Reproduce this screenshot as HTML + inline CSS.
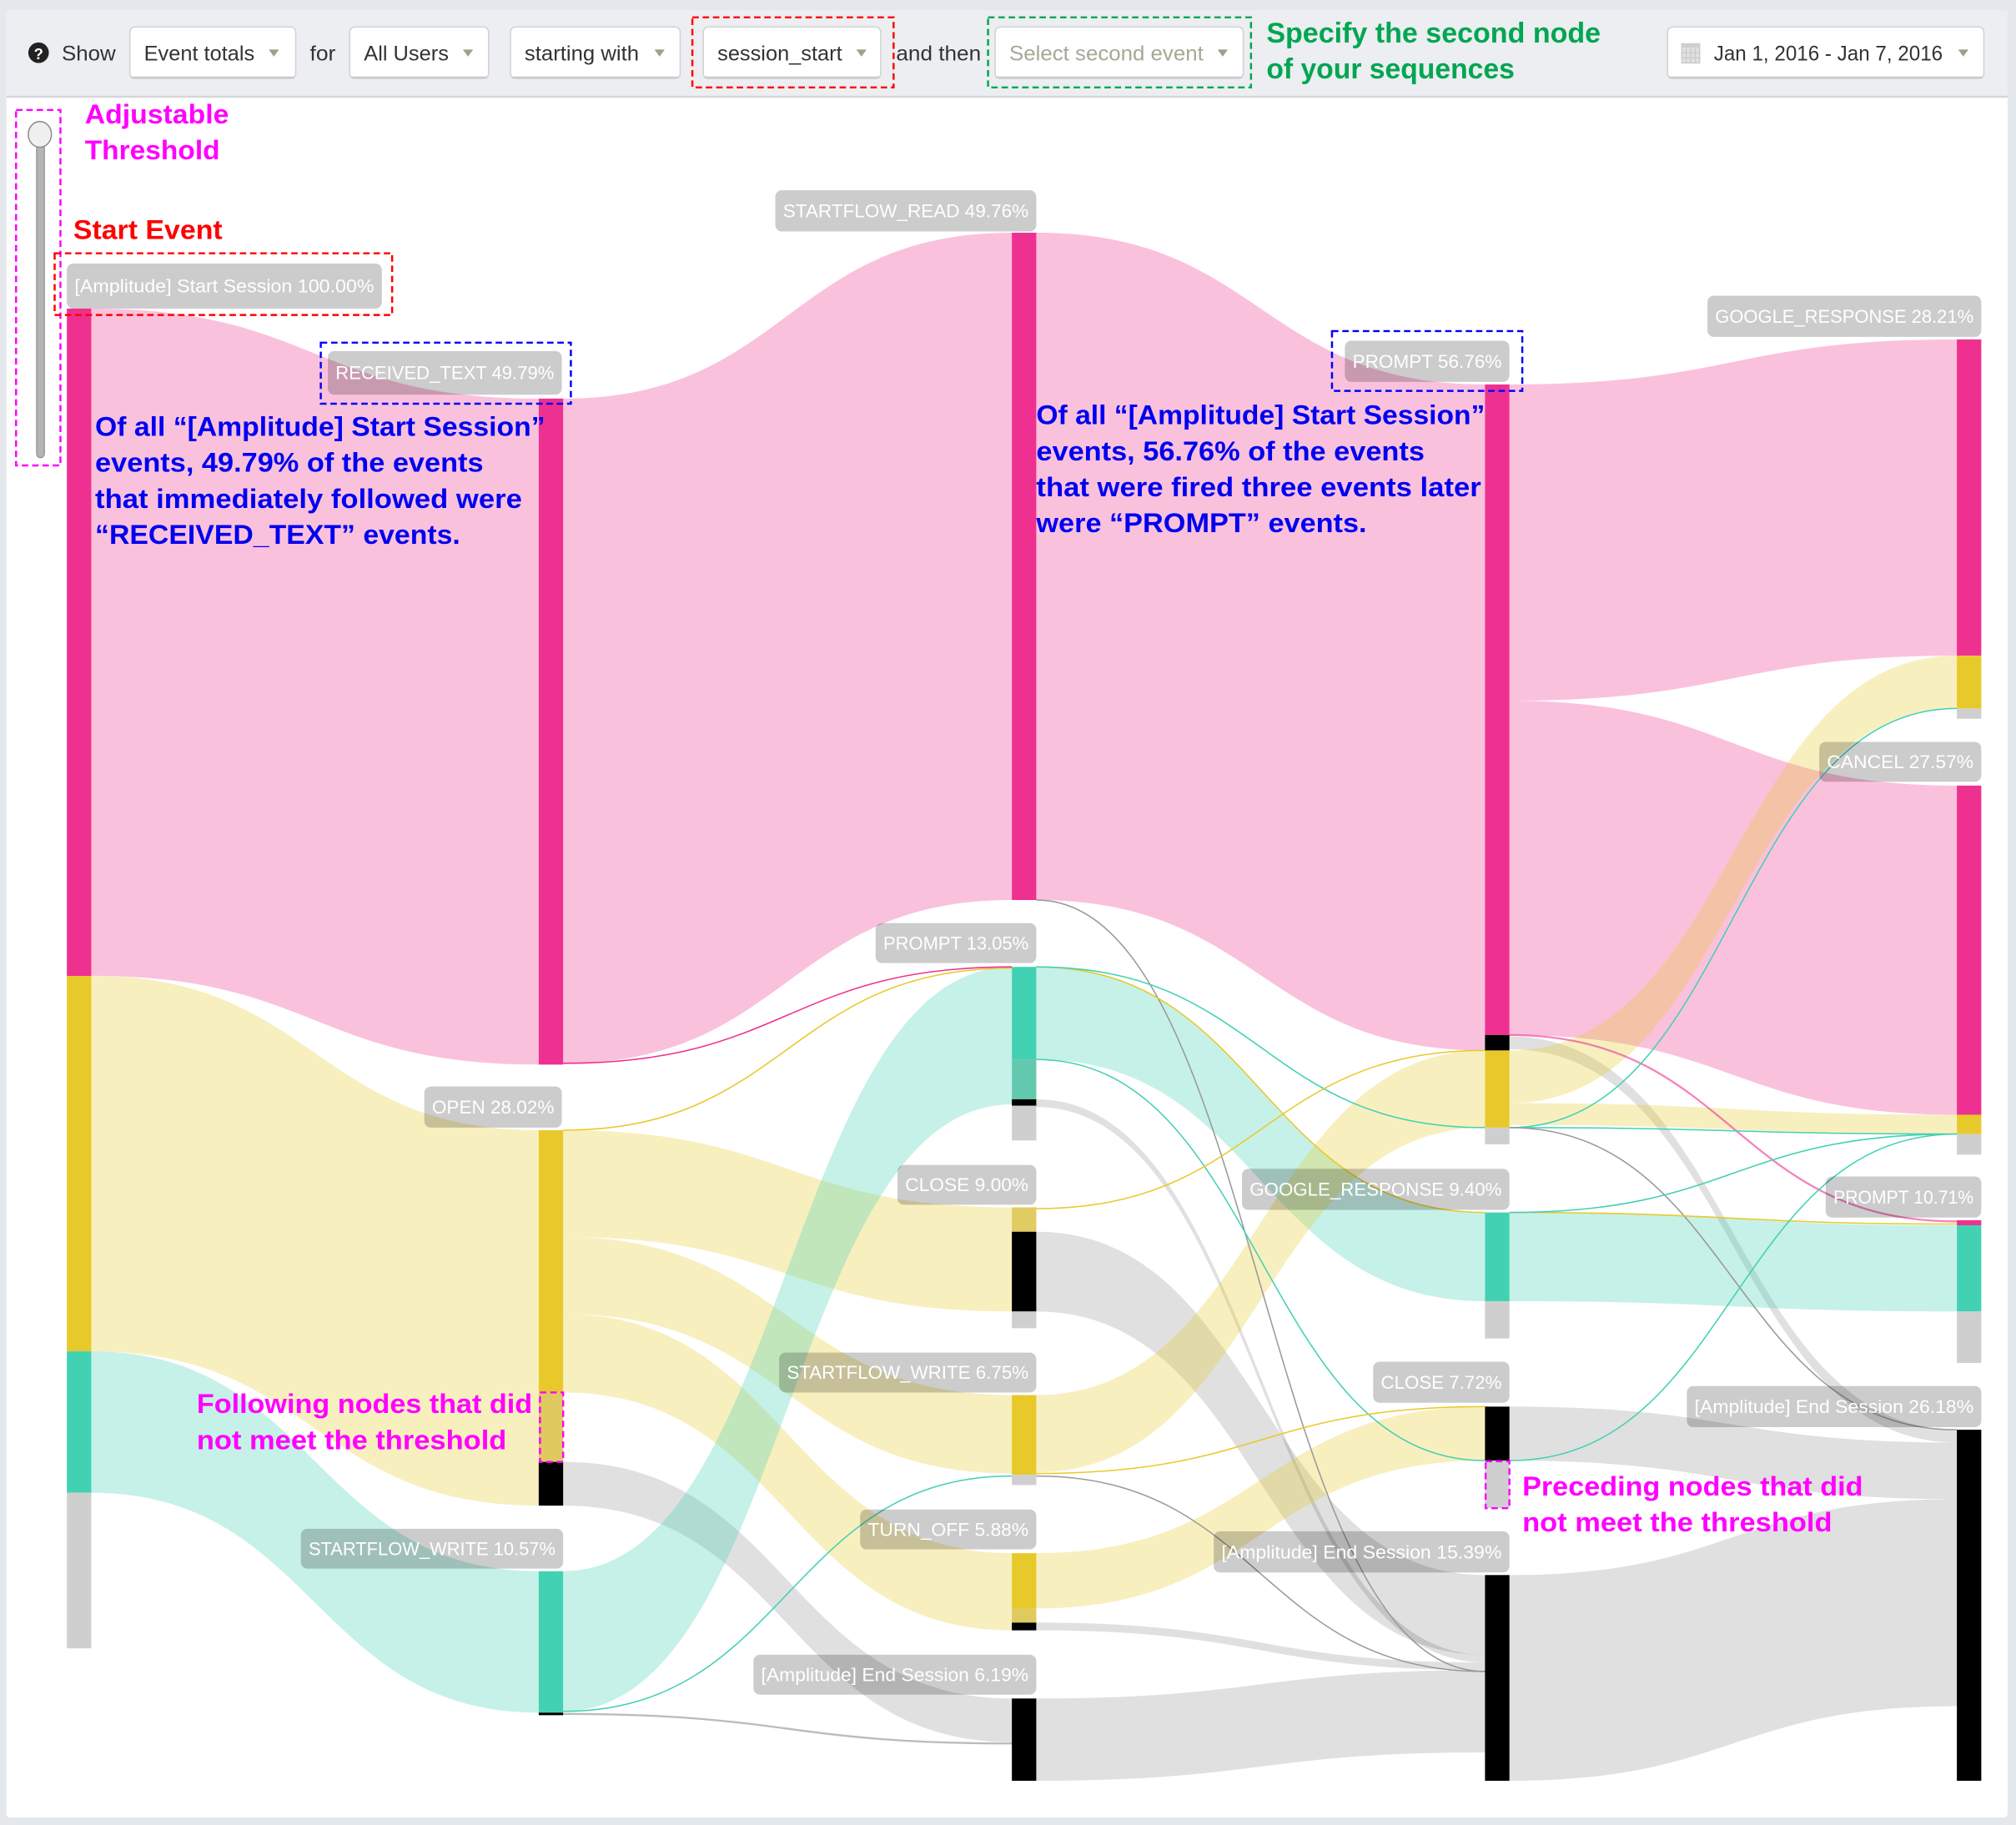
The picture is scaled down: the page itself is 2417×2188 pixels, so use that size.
<!DOCTYPE html>
<html>
<head>
<meta charset="utf-8">
<style>
html,body{margin:0;padding:0;background:#e4e7eb;}
svg{display:block;}
text{font-family:"Liberation Sans",sans-serif;}
</style>
</head>
<body>
<svg width="2417" height="2188" viewBox="0 0 1568 1419.4" preserveAspectRatio="none" xmlns="http://www.w3.org/2000/svg">
<rect x="0" y="0" width="1568" height="1419.4" fill="#e4e7eb"/>
<rect x="5" y="8" width="1556.5" height="1405.5" rx="3" fill="#ffffff"/>
<!-- top bar -->
<rect x="5" y="8" width="1556.5" height="67" fill="#eceef1"/>
<rect x="5" y="74.5" width="1556.5" height="1.5" fill="#d3d5d8"/>

<!-- help icon -->
<circle cx="30" cy="41" r="8" fill="#222"/>
<text x="30" y="46" font-size="12" font-weight="bold" fill="#fff" text-anchor="middle">?</text>
<text x="48" y="47" font-size="16" fill="#333" textLength="42" lengthAdjust="spacingAndGlyphs">Show</text>

<g fill="#fff" stroke="#d0d2d4" stroke-width="1">
<rect x="101" y="21" width="129" height="40" rx="4"/>
<rect x="272" y="21" width="108" height="40" rx="4"/>
<rect x="397" y="21" width="132" height="40" rx="4"/>
<rect x="547" y="21" width="138" height="40" rx="4"/>
<rect x="774" y="21" width="193" height="40" rx="4"/>
<rect x="1297" y="21" width="246" height="40" rx="4"/>
</g>
<g fill="#c8cacc">
<rect x="102" y="59.5" width="127" height="1.5"/>
<rect x="273" y="59.5" width="106" height="1.5"/>
<rect x="398" y="59.5" width="130" height="1.5"/>
<rect x="548" y="59.5" width="136" height="1.5"/>
<rect x="775" y="59.5" width="191" height="1.5"/>
<rect x="1298" y="59.5" width="244" height="1.5"/>
</g>
<text x="112" y="47" font-size="16" fill="#333" textLength="86" lengthAdjust="spacingAndGlyphs">Event totals</text>
<text x="241" y="47" font-size="16" fill="#333" textLength="20" lengthAdjust="spacingAndGlyphs">for</text>
<text x="283" y="47" font-size="16" fill="#333" textLength="66" lengthAdjust="spacingAndGlyphs">All Users</text>
<text x="408" y="47" font-size="16" fill="#333" textLength="89" lengthAdjust="spacingAndGlyphs">starting with</text>
<text x="558" y="47" font-size="16" fill="#333" textLength="97" lengthAdjust="spacingAndGlyphs">session_start</text>
<text x="697" y="47" font-size="16" fill="#333" textLength="66" lengthAdjust="spacingAndGlyphs">and then</text>
<text x="785" y="47" font-size="16" fill="#a4a994" textLength="151" lengthAdjust="spacingAndGlyphs">Select second event</text>
<text x="1333" y="47" font-size="16" fill="#333" textLength="178" lengthAdjust="spacingAndGlyphs">Jan 1, 2016 - Jan 7, 2016</text>
<g fill="#9ea08f">
<polygon points="209,38.5 217,38.5 213,44"/>
<polygon points="360,38.5 368,38.5 364,44"/>
<polygon points="509,38.5 517,38.5 513,44"/>
<polygon points="666,38.5 674,38.5 670,44"/>
<polygon points="947,38.5 955,38.5 951,44"/>
<polygon points="1523,38.5 1531,38.5 1527,44"/>
</g>
<!-- calendar icon -->
<g>
<rect x="1308" y="34" width="14" height="15" fill="#e0e0e0" stroke="#c8c8c8" stroke-width="0.8"/>
<rect x="1308" y="34" width="14" height="3" fill="#cfcfcf"/>
<path d="M1308 41 H1322 M1308 45 H1322 M1311.5 37 V49 M1315 37 V49 M1318.5 37 V49" stroke="#c4c4c4" stroke-width="0.6"/>
</g>
<text x="985" y="33" font-size="22" font-weight="bold" fill="#00a651" textLength="260" lengthAdjust="spacingAndGlyphs">Specify the second node</text>
<text x="985" y="61" font-size="22" font-weight="bold" fill="#00a651" textLength="193" lengthAdjust="spacingAndGlyphs">of your sequences</text>
<rect x="538.5" y="13.5" width="156.5" height="54.5" fill="none" stroke="#ff0000" stroke-width="1.6" stroke-dasharray="5 3"/>
<rect x="768.5" y="13.5" width="204.5" height="54.5" fill="none" stroke="#00a651" stroke-width="1.6" stroke-dasharray="5 3"/>

<!-- LINKS col1->col2 -->
<g>
<path d="M71 240 C245 240 245 310 419 310 L419 828 C245 828 245 759 71 759Z" fill="#ee3190" fill-opacity="0.3"/>
<path d="M71 759 C245 759 245 879 419 879 L419 1171 C245 1171 245 1051 71 1051Z" fill="#e8c92b" fill-opacity="0.3"/>
<path d="M71 1051 C245 1051 245 1222 419 1222 L419 1332 C245 1332 245 1161 71 1161Z" fill="#42d1b3" fill-opacity="0.3"/>
</g>
<!-- col2->col3 -->
<g>
<path d="M438 310 C612.5 310 612.5 181 787 181 L787 700 C612.5 700 612.5 827 438 827Z" fill="#ee3190" fill-opacity="0.3"/>
<path d="M438 879 C612.5 879 612.5 939 787 939 L787 1020 C612.5 1020 612.5 962 438 962Z" fill="#e8c92b" fill-opacity="0.3"/>
<path d="M438 962 C612.5 962 612.5 1085 787 1085 L787 1146 C612.5 1146 612.5 1022 438 1022Z" fill="#e8c92b" fill-opacity="0.3"/>
<path d="M438 1022 C612.5 1022 612.5 1208 787 1208 L787 1268 C612.5 1268 612.5 1083 438 1083Z" fill="#e8c92b" fill-opacity="0.3"/>
<path d="M438 1137 C612.5 1137 612.5 1321 787 1321 L787 1355 C612.5 1355 612.5 1171 438 1171Z" fill="#000" fill-opacity="0.12"/>
<path d="M438 1222 C612.5 1222 612.5 752 787 752 L787 859 C612.5 859 612.5 1331 438 1331Z" fill="#42d1b3" fill-opacity="0.3"/>
<g fill="none" stroke-width="1">
<path d="M438 827 C612.5 827 612.5 752 787 752" stroke="#ee3190"/>
<path d="M438 879 C612.5 879 612.5 753 787 753" stroke="#e8c92b"/>
<path d="M438 1331 C612.5 1331 612.5 1148 787 1148" stroke="#42d1b3"/>
<path d="M438 1333 C612.5 1333 612.5 1356 787 1356" stroke="#bbb" stroke-width="1.5"/>
</g>
</g>
<!-- col3->col4 -->
<g>
<path d="M806 181 C980.5 181 980.5 299 1155 299 L1155 817 C980.5 817 980.5 700 806 700Z" fill="#ee3190" fill-opacity="0.3"/>
<path d="M806 752 C980.5 752 980.5 943 1155 943 L1155 1012 C980.5 1012 980.5 824 806 824Z" fill="#42d1b3" fill-opacity="0.3"/>
<path d="M806 855 C980.5 855 980.5 1287 1155 1287 L1155 1293 C980.5 1293 980.5 861 806 861Z" fill="#000" fill-opacity="0.12"/>
<path d="M806 958 C980.5 958 980.5 1225 1155 1225 L1155 1287 C980.5 1287 980.5 1020 806 1020Z" fill="#000" fill-opacity="0.12"/>
<path d="M806 1085 C980.5 1085 980.5 817 1155 817 L1155 877 C980.5 877 980.5 1145 806 1145Z" fill="#e8c92b" fill-opacity="0.3"/>
<path d="M806 1208 C980.5 1208 980.5 1094 1155 1094 L1155 1136 C980.5 1136 980.5 1251 806 1251Z" fill="#e8c92b" fill-opacity="0.3"/>
<path d="M806 1262 C980.5 1262 980.5 1293 1155 1293 L1155 1299 C980.5 1299 980.5 1268 806 1268Z" fill="#000" fill-opacity="0.12"/>
<path d="M806 1321 C980.5 1321 980.5 1299 1155 1299 L1155 1363 C980.5 1363 980.5 1385 806 1385Z" fill="#000" fill-opacity="0.12"/>
<g fill="none" stroke-width="1">
<path d="M806 700 C980.5 700 980.5 1300 1155 1300" stroke="#999"/>
<path d="M806 752 C980.5 752 980.5 943 1155 943" stroke="#e8c92b"/>
<path d="M806 752 C980.5 752 980.5 877 1155 877" stroke="#42d1b3"/>
<path d="M806 824 C980.5 824 980.5 1136 1155 1136" stroke="#42d1b3"/>
<path d="M806 940 C980.5 940 980.5 817 1155 817" stroke="#e8c92b"/>
<path d="M806 1146 C980.5 1146 980.5 1094 1155 1094" stroke="#e8c92b"/>
<path d="M806 1148 C980.5 1148 980.5 1300 1155 1300" stroke="#999"/>
</g>
</g>
<!-- col4->col5 -->
<g>
<path d="M1174 299 C1348 299 1348 264 1522 264 L1522 510 C1348 510 1348 545 1174 545Z" fill="#ee3190" fill-opacity="0.3"/>
<path d="M1174 545 C1348 545 1348 611 1522 611 L1522 867 C1348 867 1348 805 1174 805Z" fill="#ee3190" fill-opacity="0.3"/>
<path d="M1174 806 C1348 806 1348 1112 1522 1112 L1522 1122 C1348 1122 1348 816 1174 816Z" fill="#000" fill-opacity="0.12"/>
<path d="M1174 817 C1348 817 1348 510 1522 510 L1522 551 C1348 551 1348 858 1174 858Z" fill="#e8c92b" fill-opacity="0.3"/>
<path d="M1174 858 C1348 858 1348 867 1522 867 L1522 882 C1348 882 1348 875 1174 875Z" fill="#e8c92b" fill-opacity="0.3"/>
<path d="M1174 943 C1348 943 1348 953 1522 953 L1522 1020 C1348 1020 1348 1012 1174 1012Z" fill="#42d1b3" fill-opacity="0.3"/>
<path d="M1174 1094 C1348 1094 1348 1122 1522 1122 L1522 1166 C1348 1166 1348 1136 1174 1136Z" fill="#000" fill-opacity="0.12"/>
<path d="M1174 1225 C1348 1225 1348 1166 1522 1166 L1522 1327 C1348 1327 1348 1385 1174 1385Z" fill="#000" fill-opacity="0.12"/>
<g fill="none" stroke-width="1">
<path d="M1174 805 C1348 805 1348 950 1522 950" stroke="#ee3190" stroke-opacity="0.6" stroke-width="1.5"/>
<path d="M1174 877 C1348 877 1348 551 1522 551" stroke="#42d1b3"/>
<path d="M1174 877 C1348 877 1348 882 1522 882" stroke="#42d1b3"/>
<path d="M1174 877 C1348 877 1348 1112 1522 1112" stroke="#999"/>
<path d="M1174 943 C1348 943 1348 952 1522 952" stroke="#e8c92b"/>
<path d="M1174 943 C1348 943 1348 882 1522 882" stroke="#42d1b3"/>
<path d="M1174 1136 C1348 1136 1348 882 1522 882" stroke="#42d1b3"/>
</g>
</g>

<!-- NODES -->
<g>
<!-- col1 -->
<rect x="52" y="240" width="19" height="519" fill="#ee3190"/>
<rect x="52" y="759" width="19" height="292" fill="#e8c92b"/>
<rect x="52" y="1051" width="19" height="110" fill="#42d1b3"/>
<rect x="52" y="1161" width="19" height="121" fill="#cfcfd0"/>
<!-- col2 -->
<rect x="419" y="310" width="19" height="518" fill="#ee3190"/>
<rect x="419" y="879" width="19" height="204" fill="#e8c92b"/>
<rect x="419" y="1083" width="19" height="54" fill="#dfca5f"/>
<rect x="419" y="1137" width="19" height="34" fill="#000"/>
<rect x="419" y="1222" width="19" height="110" fill="#42d1b3"/>
<rect x="419" y="1332" width="19" height="2" fill="#000"/>
<!-- col3 -->
<rect x="787" y="181" width="19" height="519" fill="#ee3190"/>
<rect x="787" y="752" width="19" height="72" fill="#42d1b3"/>
<rect x="787" y="824" width="19" height="31" fill="#62c8ae"/>
<rect x="787" y="855" width="19" height="5" fill="#000"/>
<rect x="787" y="860" width="19" height="27" fill="#cfcfd0"/>
<rect x="787" y="939" width="19" height="19" fill="#e0cc62"/>
<rect x="787" y="958" width="19" height="62" fill="#000"/>
<rect x="787" y="1020" width="19" height="13" fill="#cfcfd0"/>
<rect x="787" y="1085" width="19" height="62" fill="#e8c92b"/>
<rect x="787" y="1147" width="19" height="8" fill="#cfcfd0"/>
<rect x="787" y="1208" width="19" height="43" fill="#e8c92b"/>
<rect x="787" y="1251" width="19" height="11" fill="#dfca5f"/>
<rect x="787" y="1262" width="19" height="6" fill="#000"/>
<rect x="787" y="1321" width="19" height="64" fill="#000"/>
<!-- col4 -->
<rect x="1155" y="299" width="19" height="506" fill="#ee3190"/>
<rect x="1155" y="805" width="19" height="12" fill="#000"/>
<rect x="1155" y="817" width="19" height="60" fill="#e8c92b"/>
<rect x="1155" y="877" width="19" height="13" fill="#cfcfd0"/>
<rect x="1155" y="943" width="19" height="69" fill="#42d1b3"/>
<rect x="1155" y="1012" width="19" height="29" fill="#cfcfd0"/>
<rect x="1155" y="1094" width="19" height="42" fill="#000"/>
<rect x="1155" y="1136" width="19" height="37" fill="#cfcfd0"/>
<rect x="1155" y="1225" width="19" height="160" fill="#000"/>
<!-- col5 -->
<rect x="1522" y="264" width="19" height="246" fill="#ee3190"/>
<rect x="1522" y="510" width="19" height="41" fill="#e8c92b"/>
<rect x="1522" y="551" width="19" height="8" fill="#cfcfd0"/>
<rect x="1522" y="611" width="19" height="256" fill="#ee3190"/>
<rect x="1522" y="867" width="19" height="15" fill="#e8c92b"/>
<rect x="1522" y="882" width="19" height="16" fill="#cfcfd0"/>
<rect x="1522" y="949" width="19" height="4" fill="#ee3190"/>
<rect x="1522" y="953" width="19" height="67" fill="#42d1b3"/>
<rect x="1522" y="1020" width="19" height="40" fill="#cfcfd0"/>
<rect x="1522" y="1112" width="19" height="273" fill="#000"/>
</g>

<!-- LABELS -->
<g fill="#000" fill-opacity="0.2">
<rect x="52" y="205" width="245" height="35" rx="5"/>
<rect x="255" y="273" width="182" height="34" rx="5"/>
<rect x="603" y="148" width="203" height="32" rx="5"/>
<rect x="330" y="845" width="107" height="32" rx="5"/>
<rect x="234" y="1189" width="204" height="31" rx="5"/>
<rect x="681" y="718" width="125" height="31" rx="5"/>
<rect x="698" y="906" width="108" height="31" rx="5"/>
<rect x="606" y="1052" width="200" height="31" rx="5"/>
<rect x="669" y="1174" width="137" height="31" rx="5"/>
<rect x="586" y="1287" width="220" height="31" rx="5"/>
<rect x="1046" y="265" width="128" height="32" rx="5"/>
<rect x="966" y="909" width="208" height="32" rx="5"/>
<rect x="1068" y="1059" width="106" height="32" rx="5"/>
<rect x="944" y="1191" width="230" height="32" rx="5"/>
<rect x="1328" y="230" width="213" height="32" rx="5"/>
<rect x="1415" y="577" width="126" height="31" rx="5"/>
<rect x="1420" y="915" width="121" height="32" rx="5"/>
<rect x="1312" y="1078" width="229" height="32" rx="5"/>
</g>
<g fill="#fff" font-size="14.5">
<text x="58" y="227.5" textLength="233" lengthAdjust="spacingAndGlyphs">[Amplitude] Start Session 100.00%</text>
<text x="261" y="295" textLength="170" lengthAdjust="spacingAndGlyphs">RECEIVED_TEXT 49.79%</text>
<text x="609" y="169" textLength="191" lengthAdjust="spacingAndGlyphs">STARTFLOW_READ 49.76%</text>
<text x="336" y="866" textLength="95" lengthAdjust="spacingAndGlyphs">OPEN 28.02%</text>
<text x="240" y="1209.5" textLength="192" lengthAdjust="spacingAndGlyphs">STARTFLOW_WRITE 10.57%</text>
<text x="687" y="738.5" textLength="113" lengthAdjust="spacingAndGlyphs">PROMPT 13.05%</text>
<text x="704" y="926.5" textLength="96" lengthAdjust="spacingAndGlyphs">CLOSE 9.00%</text>
<text x="612" y="1072.5" textLength="188" lengthAdjust="spacingAndGlyphs">STARTFLOW_WRITE 6.75%</text>
<text x="675" y="1194.5" textLength="125" lengthAdjust="spacingAndGlyphs">TURN_OFF 5.88%</text>
<text x="592" y="1307.5" textLength="208" lengthAdjust="spacingAndGlyphs">[Amplitude] End Session 6.19%</text>
<text x="1052" y="286" textLength="116" lengthAdjust="spacingAndGlyphs">PROMPT 56.76%</text>
<text x="972" y="930" textLength="196" lengthAdjust="spacingAndGlyphs">GOOGLE_RESPONSE 9.40%</text>
<text x="1074" y="1080" textLength="94" lengthAdjust="spacingAndGlyphs">CLOSE 7.72%</text>
<text x="950" y="1212" textLength="218" lengthAdjust="spacingAndGlyphs">[Amplitude] End Session 15.39%</text>
<text x="1334" y="251" textLength="201" lengthAdjust="spacingAndGlyphs">GOOGLE_RESPONSE 28.21%</text>
<text x="1421" y="597.5" textLength="114" lengthAdjust="spacingAndGlyphs">CANCEL 27.57%</text>
<text x="1426" y="936" textLength="109" lengthAdjust="spacingAndGlyphs">PROMPT 10.71%</text>
<text x="1318" y="1099" textLength="217" lengthAdjust="spacingAndGlyphs">[Amplitude] End Session 26.18%</text>
</g>

<!-- slider -->
<rect x="28.5" y="104" width="6" height="252" rx="3" fill="#b4b5b3" stroke="#8e8f8c" stroke-width="0.8"/>
<ellipse cx="31" cy="104.5" rx="9" ry="10" fill="#f0f0f0" stroke="#8e8f8c" stroke-width="1"/>
<rect x="12.5" y="85.5" width="34.5" height="276.5" fill="none" stroke="#ff00ff" stroke-width="1.6" stroke-dasharray="5 3"/>

<!-- annotations -->
<g font-weight="bold">
<text x="66" y="96" font-size="21" fill="#ff00ff" textLength="112" lengthAdjust="spacingAndGlyphs">Adjustable</text>
<text x="66" y="124" font-size="21" fill="#ff00ff" textLength="105" lengthAdjust="spacingAndGlyphs">Threshold</text>
<text x="57" y="186" font-size="21" fill="#ff0000" textLength="116" lengthAdjust="spacingAndGlyphs">Start Event</text>

<text x="74" y="339" font-size="21" fill="#0000f0" textLength="350" lengthAdjust="spacingAndGlyphs">Of all “[Amplitude] Start Session”</text>
<text x="74" y="367" font-size="21" fill="#0000f0" textLength="302" lengthAdjust="spacingAndGlyphs">events, 49.79% of the events</text>
<text x="74" y="395" font-size="21" fill="#0000f0" textLength="332" lengthAdjust="spacingAndGlyphs">that immediately followed were</text>
<text x="74" y="423" font-size="21" fill="#0000f0" textLength="284" lengthAdjust="spacingAndGlyphs">“RECEIVED_TEXT” events.</text>

<text x="806" y="330" font-size="21" fill="#0000f0" textLength="349" lengthAdjust="spacingAndGlyphs">Of all “[Amplitude] Start Session”</text>
<text x="806" y="358" font-size="21" fill="#0000f0" textLength="302" lengthAdjust="spacingAndGlyphs">events, 56.76% of the events</text>
<text x="806" y="386" font-size="21" fill="#0000f0" textLength="346" lengthAdjust="spacingAndGlyphs">that were fired three events later</text>
<text x="806" y="414" font-size="21" fill="#0000f0" textLength="257" lengthAdjust="spacingAndGlyphs">were “PROMPT” events.</text>

<text x="153" y="1099" font-size="21" fill="#ff00ff" textLength="261" lengthAdjust="spacingAndGlyphs">Following nodes that did</text>
<text x="153" y="1127" font-size="21" fill="#ff00ff" textLength="241" lengthAdjust="spacingAndGlyphs">not meet the threshold</text>
<text x="1184" y="1163" font-size="21" fill="#ff00ff" textLength="265" lengthAdjust="spacingAndGlyphs">Preceding nodes that did</text>
<text x="1184" y="1191" font-size="21" fill="#ff00ff" textLength="241" lengthAdjust="spacingAndGlyphs">not meet the threshold</text>
</g>

<!-- dashed boxes -->
<g fill="none" stroke-width="1.6" stroke-dasharray="5 3">
<rect x="42.5" y="197" width="262.5" height="48" stroke="#ff0000"/>
<rect x="249.5" y="266.5" width="194.5" height="47.5" stroke="#0000ff"/>
<rect x="1036" y="257.5" width="148" height="46.5" stroke="#0000ff"/>
<rect x="420" y="1083" width="18" height="54" stroke="#ff00ff"/>
<rect x="1155.5" y="1136.5" width="18.5" height="36.5" stroke="#ff00ff"/>
</g>
</svg>
</body>
</html>
